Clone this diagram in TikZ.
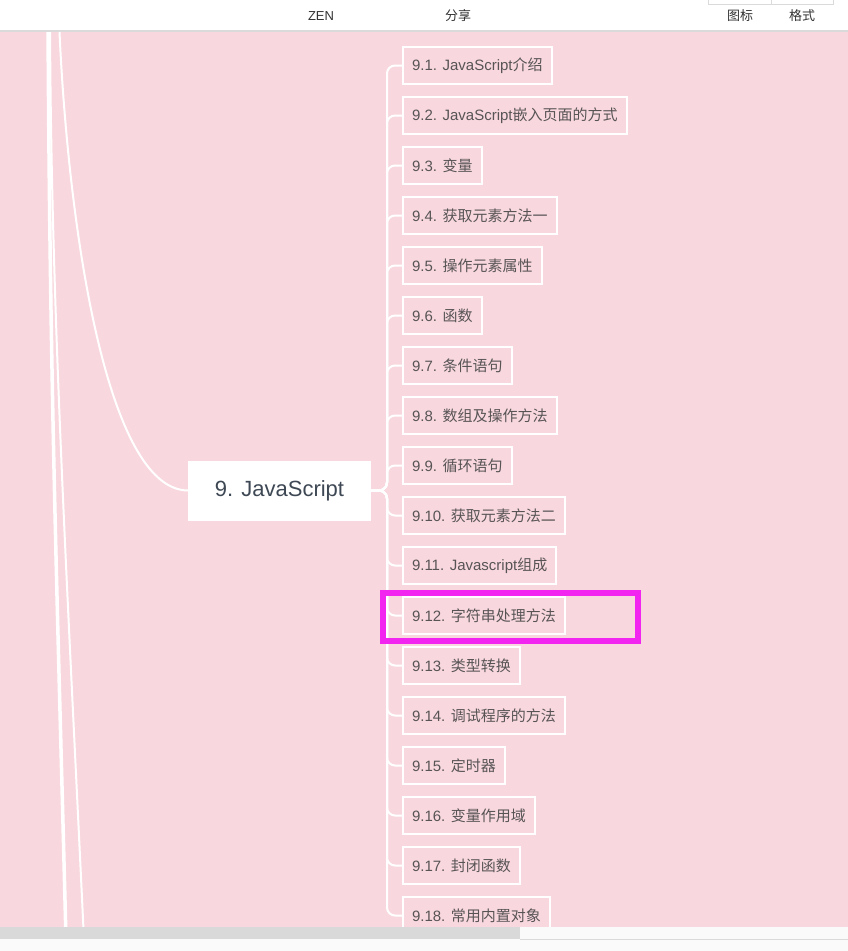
\documentclass[tikz,border=0pt]{standalone}
\usepackage{fontspec}
\setmainfont{Liberation Sans}
\newfontfamily\cjk{Noto Sans CJK SC}
\usepackage{tikz}
\usetikzlibrary{positioning}

\definecolor{mapbg}{RGB}{248,216,222}
\definecolor{subtext}{RGB}{88,84,86}
\definecolor{roottext}{RGB}{62,72,84}
\definecolor{hilite}{RGB}{242,36,240}
\definecolor{barline}{RGB}{218,218,218}
\definecolor{scrollbar}{RGB}{217,217,217}
\definecolor{pagefoot}{RGB}{250,250,250}

\begin{document}
\begin{tikzpicture}[
  x=1pt, y=-1pt,
  node distance=13pt,
  topic/.style={draw=white, line width=2pt, minimum height=37pt,
                inner xsep=9pt, inner ysep=0pt, outer sep=0pt,
                text=subtext, font=\fontsize{15}{17}\selectfont},
  root/.style={fill=white, minimum width=183pt, minimum height=60pt,
               outer sep=0pt, text=roottext,
               font=\fontsize{22}{26}\selectfont},
  branch/.style={draw=white, line width=2pt, rounded corners=8pt},
  toolbtn/.style={text=black!80, font=\fontsize{13}{15}\selectfont}
]
\useasboundingbox (0,0) rectangle (848,951);

% toolbar
\fill[white] (0,0) rectangle (848,31);
\draw[barline, line width=1.5pt] (0,31) -- (848,31);
\draw[barline, line width=1pt] (708,-2) rectangle (833,4);
\draw[barline, line width=1pt] (771,-2) -- (771,4);
\node[toolbtn] (zen) at (321,16) {ZEN};
\node[toolbtn] (share) at (458,16) {\cjk 分享};
\node[toolbtn] (icons) at (740,16) {\cjk 图标};
\node[toolbtn] (format) at (802,16) {\cjk 格式};

% canvas
\fill[mapbg] (0,32) rectangle (848,927);
\begin{scope}
  \clip (0,32) rectangle (848,927);
  \draw[white, line width=3.5pt] (48,20) .. controls (50,400) and (58,620) .. (66,940);
  \draw[white, line width=2pt] (50,20) .. controls (51,300) and (66,560) .. (84,940);
\end{scope}

% root
\node[root] (js) at (279.5,490.5) {9. JavaScript};
\coordinate (parent) at (59.5,32);
\draw[white, line width=2pt] (parent) .. controls (68,220) and (105,490) .. (js.west);

% sub topics
\node[topic, anchor=west] (t1) at (403,65.5) {9.1. JavaScript{\cjk 介绍}};
\node[topic, below=of t1.south west, anchor=north west] (t2) {9.2. JavaScript{\cjk 嵌入页面的方式}};
\node[topic, below=of t2.south west, anchor=north west] (t3) {9.3. {\cjk 变量}};
\node[topic, below=of t3.south west, anchor=north west] (t4) {9.4. {\cjk 获取元素方法一}};
\node[topic, below=of t4.south west, anchor=north west] (t5) {9.5. {\cjk 操作元素属性}};
\node[topic, below=of t5.south west, anchor=north west] (t6) {9.6. {\cjk 函数}};
\node[topic, below=of t6.south west, anchor=north west] (t7) {9.7. {\cjk 条件语句}};
\node[topic, below=of t7.south west, anchor=north west] (t8) {9.8. {\cjk 数组及操作方法}};
\node[topic, below=of t8.south west, anchor=north west] (t9) {9.9. {\cjk 循环语句}};
\node[topic, below=of t9.south west, anchor=north west] (t10) {9.10. {\cjk 获取元素方法二}};
\node[topic, below=of t10.south west, anchor=north west] (t11) {9.11. Javascript{\cjk 组成}};
\node[topic, below=of t11.south west, anchor=north west] (t12) {9.12. {\cjk 字符串处理方法}};
\node[topic, below=of t12.south west, anchor=north west] (t13) {9.13. {\cjk 类型转换}};
\node[topic, below=of t13.south west, anchor=north west] (t14) {9.14. {\cjk 调试程序的方法}};
\node[topic, below=of t14.south west, anchor=north west] (t15) {9.15. {\cjk 定时器}};
\node[topic, below=of t15.south west, anchor=north west] (t16) {9.16. {\cjk 变量作用域}};
\node[topic, below=of t16.south west, anchor=north west] (t17) {9.17. {\cjk 封闭函数}};
\node[topic, below=of t17.south west, anchor=north west] (t18) {9.18. {\cjk 常用内置对象}};

\draw[branch] (js.east) -- ++(16,0) |- (t1.west);
\draw[branch] (js.east) -- ++(16,0) |- (t2.west);
\draw[branch] (js.east) -- ++(16,0) |- (t3.west);
\draw[branch] (js.east) -- ++(16,0) |- (t4.west);
\draw[branch] (js.east) -- ++(16,0) |- (t5.west);
\draw[branch] (js.east) -- ++(16,0) |- (t6.west);
\draw[branch] (js.east) -- ++(16,0) |- (t7.west);
\draw[branch] (js.east) -- ++(16,0) |- (t8.west);
\draw[branch] (js.east) -- ++(16,0) |- (t9.west);
\draw[branch] (js.east) -- ++(16,0) |- (t10.west);
\draw[branch] (js.east) -- ++(16,0) |- (t11.west);
\draw[branch] (js.east) -- ++(16,0) |- (t12.west);
\draw[branch] (js.east) -- ++(16,0) |- (t13.west);
\draw[branch] (js.east) -- ++(16,0) |- (t14.west);
\draw[branch] (js.east) -- ++(16,0) |- (t15.west);
\draw[branch] (js.east) -- ++(16,0) |- (t16.west);
\draw[branch] (js.east) -- ++(16,0) |- (t17.west);
\draw[branch] (js.east) -- ++(16,0) |- (t18.west);

% selection mark
\draw[hilite, line width=6pt] (382.7,592.5) rectangle (637.8,640.7);

% scroll bar
\fill[pagefoot] (0,927) rectangle (848,951);
\fill[scrollbar] (0,927) rectangle (520,939);
\draw[barline, line width=1pt] (520,939) -- (848,939);
\end{tikzpicture}
\end{document}
